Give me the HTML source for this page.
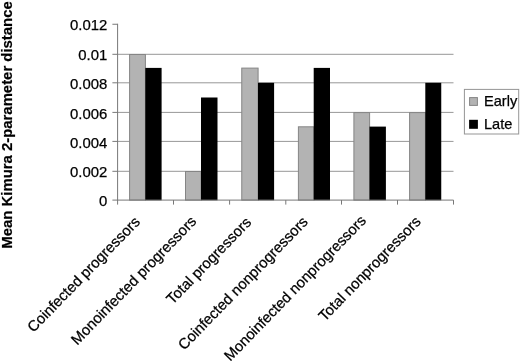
<!DOCTYPE html>
<html><head><meta charset="utf-8">
<style>
html,body{margin:0;padding:0;background:#fff;}
body{width:520px;height:362px;overflow:hidden;}
svg{display:block;}
text{font-family:"Liberation Sans",Arial,sans-serif;fill:#000;}
</style></head><body>
<svg width="520" height="362" viewBox="0 0 520 362">
<rect width="520" height="362" fill="#fff"/>
<!-- gridlines -->
<g stroke="#979797" stroke-width="1">
<line x1="117.6" y1="171.3" x2="453.5" y2="171.3"/>
<line x1="117.6" y1="141.4" x2="453.5" y2="141.4"/>
<line x1="117.6" y1="112.4" x2="453.5" y2="112.4"/>
<line x1="117.6" y1="82.8" x2="453.5" y2="82.8"/>
<line x1="117.6" y1="54.3" x2="453.5" y2="54.3"/>
</g>
<!-- bars -->
<g fill="#b3b3b3" stroke="#858585" stroke-width="1">
<rect x="129.60" y="54.50" width="15.80" height="145.60"/>
<rect x="185.50" y="171.50" width="15.60" height="28.60"/>
<rect x="241.75" y="68.10" width="16.35" height="132.00"/>
<rect x="298.40" y="126.80" width="15.40" height="73.30"/>
<rect x="353.90" y="112.60" width="15.70" height="87.50"/>
<rect x="409.60" y="112.60" width="15.80" height="87.50"/>
</g>
<g fill="#000">
<rect x="145.30" y="67.9" width="16.30" height="132.40"/>
<rect x="201.00" y="97.5" width="16.50" height="102.80"/>
<rect x="258.00" y="82.8" width="16.10" height="117.50"/>
<rect x="313.70" y="67.9" width="16.30" height="132.40"/>
<rect x="369.50" y="126.6" width="16.40" height="73.70"/>
<rect x="425.30" y="82.8" width="15.95" height="117.50"/>
</g>
<!-- axes -->
<g stroke="#787878" stroke-width="1">
<line x1="117.6" y1="23.75" x2="117.6" y2="204.6"/>
<line x1="112.4" y1="200.1" x2="453.5" y2="200.1"/>
<line x1="112.4" y1="171.3" x2="117.6" y2="171.3"/>
<line x1="112.4" y1="141.4" x2="117.6" y2="141.4"/>
<line x1="112.4" y1="112.4" x2="117.6" y2="112.4"/>
<line x1="112.4" y1="82.8" x2="117.6" y2="82.8"/>
<line x1="112.4" y1="54.3" x2="117.6" y2="54.3"/>
<line x1="112.4" y1="24.25" x2="117.6" y2="24.25"/>
<line x1="173.5" y1="200.1" x2="173.5" y2="204.6"/>
<line x1="229.6" y1="200.1" x2="229.6" y2="204.6"/>
<line x1="285.8" y1="200.1" x2="285.8" y2="204.6"/>
<line x1="341.5" y1="200.1" x2="341.5" y2="204.6"/>
<line x1="397.5" y1="200.1" x2="397.5" y2="204.6"/>
<line x1="453.5" y1="200.1" x2="453.5" y2="204.6"/>
</g>
<!-- y labels -->
<g font-size="14.9" text-anchor="end" stroke="#000" stroke-width="0.25">
<text x="107.3" y="206.2">0</text>
<text x="107.3" y="177.4">0.002</text>
<text x="107.3" y="147.5">0.004</text>
<text x="107.3" y="118.5">0.006</text>
<text x="107.3" y="88.9">0.008</text>
<text x="107.3" y="60.4">0.01</text>
<text x="107.3" y="30.35">0.012</text>
</g>
<!-- y title -->
<text id="ytitle" font-size="14.9" font-weight="bold" stroke="#000" stroke-width="0.2" transform="translate(12.3,248.7) rotate(-90)">Mean Kimura 2-parameter distance</text>
<!-- x labels -->
<g font-size="14.9" text-anchor="end" stroke="#000" stroke-width="0.25">
<text transform="translate(140.90,222.6) rotate(-45.8)">Coinfected progressors</text>
<text transform="translate(197.3,222.2) rotate(-45.8)">Monoinfected progressors</text>
<text transform="translate(252.2,223.2) rotate(-45.8)">Total progressors</text>
<text transform="translate(308.78,222.6) rotate(-45.8)">Coinfected nonprogressors</text>
<text font-size="14.8" transform="translate(366.8,221.4) rotate(-45.8)">Monoinfected nonprogressors</text>
<text transform="translate(421.6,222.3) rotate(-45.8)">Total nonprogressors</text>
</g>
<!-- legend -->
<rect x="464.4" y="89.4" width="54.3" height="44.6" fill="#fff" stroke="#959595" stroke-width="1"/>
<rect x="469.6" y="97.6" width="7.8" height="7.8" fill="#b3b3b3" stroke="#858585"/>
<rect x="469.1" y="119.8" width="8.8" height="9" fill="#000"/>
<g font-size="14.6" stroke="#000" stroke-width="0.25">
<text x="484" y="106.3">Early</text>
<text x="484" y="129.1">Late</text>
</g>
</svg>
</body></html>
